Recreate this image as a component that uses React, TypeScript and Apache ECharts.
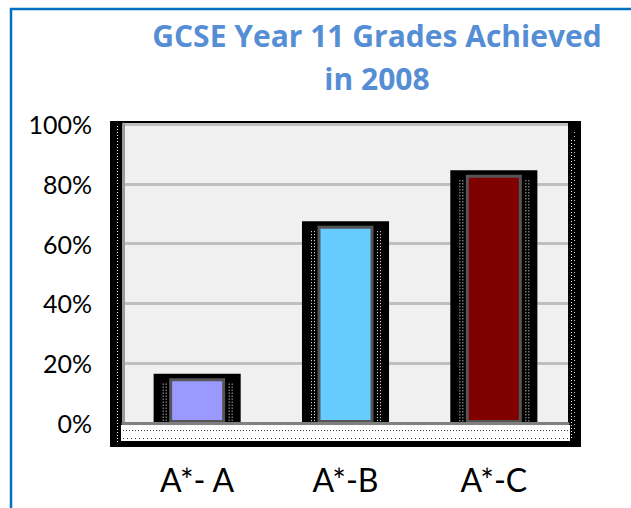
import React, { useEffect, useRef } from "react";
import * as echarts from "echarts";

const titleLines = ["GCSE Year 11 Grades Achieved", "in 2008"];
const categories = ["A*- A", "A*-B", "A*-C"];
const values = [15, 66, 83];
const barColors = ["#9999FF", "#66CCFF", "#800000"];
const yTicks = [0, 20, 40, 60, 80, 100];

const FONT = "Lato, 'Open Sans', sans-serif";
const TITLE_FONT = "'Open Sans', Lato, sans-serif";

export default function App() {
  const ref = useRef<HTMLDivElement>(null);
  useEffect(() => {
    if (!ref.current) return;
    const chart = echarts.init(ref.current, undefined, { renderer: "svg" });
    const option: any = {
      animation: false,
      backgroundColor: "#ffffff",
      graphic: [
        {
          type: "rect",
          z: -10,
          shape: { x: 110, y: 121, width: 471, height: 326 },
          style: { fill: "#000000" },
        },
        {
          type: "rect",
          z: 50,
          shape: { x: 121, y: 425, width: 449, height: 16 },
          style: { fill: "#ffffff" },
        },
        {
          type: "line",
          z: 51,
          shape: { x1: 123, y1: 430.5, x2: 568, y2: 430.5 },
          style: { stroke: "#333", lineWidth: 1, lineDash: [1, 2] },
        },
        {
          type: "line",
          z: 51,
          shape: { x1: 123, y1: 438.5, x2: 568, y2: 438.5 },
          style: { stroke: "#333", lineWidth: 1, lineDash: [1, 3] },
        },
        {
          type: "line",
          z: 51,
          shape: { x1: 117.5, y1: 126, x2: 117.5, y2: 442 },
          style: { stroke: "#ffffff", lineWidth: 1, lineDash: [1, 2] },
        },
        {
          type: "line",
          z: 51,
          shape: { x1: 571.5, y1: 140, x2: 571.5, y2: 440 },
          style: { stroke: "#ffffff", lineWidth: 1, lineDash: [1, 2] },
        },
        {
          type: "line",
          z: 51,
          shape: { x1: 574.5, y1: 132, x2: 574.5, y2: 436 },
          style: { stroke: "#cccccc", lineWidth: 1, lineDash: [1, 3] },
        },
        {
          type: "rect",
          z: 60,
          shape: { x: 11, y: 9, width: 660, height: 560 },
          style: { fill: "none", stroke: "#0070C0", lineWidth: 2.5 },
        },
        {
          type: "text",
          z: 60,
          style: {
            text: titleLines[0],
            x: 377,
            y: 35,
            textAlign: "center",
            textVerticalAlign: "middle",
            fontFamily: TITLE_FONT,
            fontWeight: "bold",
            fontSize: 30,
            fill: "#558ED5",
          },
        },
        {
          type: "text",
          z: 60,
          style: {
            text: titleLines[1],
            x: 377,
            y: 78,
            textAlign: "center",
            textVerticalAlign: "middle",
            fontFamily: TITLE_FONT,
            fontWeight: "bold",
            fontSize: 30,
            fill: "#558ED5",
          },
        },
      ],
      grid: {
        left: 123,
        right: 63,
        top: 124,
        bottom: 85,
        show: true,
        backgroundColor: "#F0F0F0",
        borderWidth: 0,
      },
      xAxis: {
        type: "category",
        data: categories,
        axisLine: { show: true, lineStyle: { color: "#808080", width: 3 } },
        axisTick: { show: false },
        axisLabel: {
          margin: 40,
          fontFamily: FONT,
          fontSize: 32,
          color: "#000000",
        },
        z: 20,
      },
      yAxis: {
        type: "value",
        min: 0,
        max: 100,
        interval: 20,
        axisLine: { show: true, lineStyle: { color: "#9a9a9a", width: 3 } },
        axisTick: { show: false },
        splitLine: { lineStyle: { color: "#BFBFBF", width: 3 } },
        axisLabel: {
          margin: 31,
          fontFamily: FONT,
          fontSize: 25,
          color: "#000000",
          formatter: (v: number) => (yTicks.includes(v) ? v + "%" : ""),
        },
      },
      series: [
        {
          type: "custom",
          z: 3,
          data: values.map((v, i) => [i, v]),
          renderItem: (params: any, api: any) => {
            const idx = api.value(0);
            const v = api.value(1);
            const top = api.coord([idx, v]);
            const base = api.coord([idx, 0]);
            const band = api.size([1, 0])[0];
            const w = band * 0.587;
            const cx = top[0];
            const y0 = top[1] - 4.5;
            const y1 = base[1] + 2;
            const half = 29.5;
            const dots = [-half - 5, -half - 2, half + 2, half + 5].map((dx) => ({
              type: "line",
              shape: { x1: cx + dx + 0.5, y1: y0 + 10, x2: cx + dx + 0.5, y2: y1 },
              style: { stroke: "#ffffff", lineWidth: 1, lineDash: [1, 2] },
            }));
            return {
              type: "group",
              children: [
                {
                  type: "rect",
                  shape: { x: cx - w / 2, y: y0, width: w, height: y1 - y0 },
                  style: { fill: "#000000" },
                },
                ...dots,
              ],
            };
          },
        },
        {
          type: "bar",
          z: 5,
          barWidth: 56,
          data: values.map((v, i) => ({
            value: v,
            itemStyle: {
              color: barColors[i],
              borderColor: "#555555",
              borderWidth: 3,
            },
          })),
        },
      ],
    };
    chart.setOption(option);
    return () => chart.dispose();
  }, []);
  return (
    <div
      ref={ref}
      style={{ position: "absolute", left: 0, top: 0, width: 631, height: 508 }}
    />
  );
}
